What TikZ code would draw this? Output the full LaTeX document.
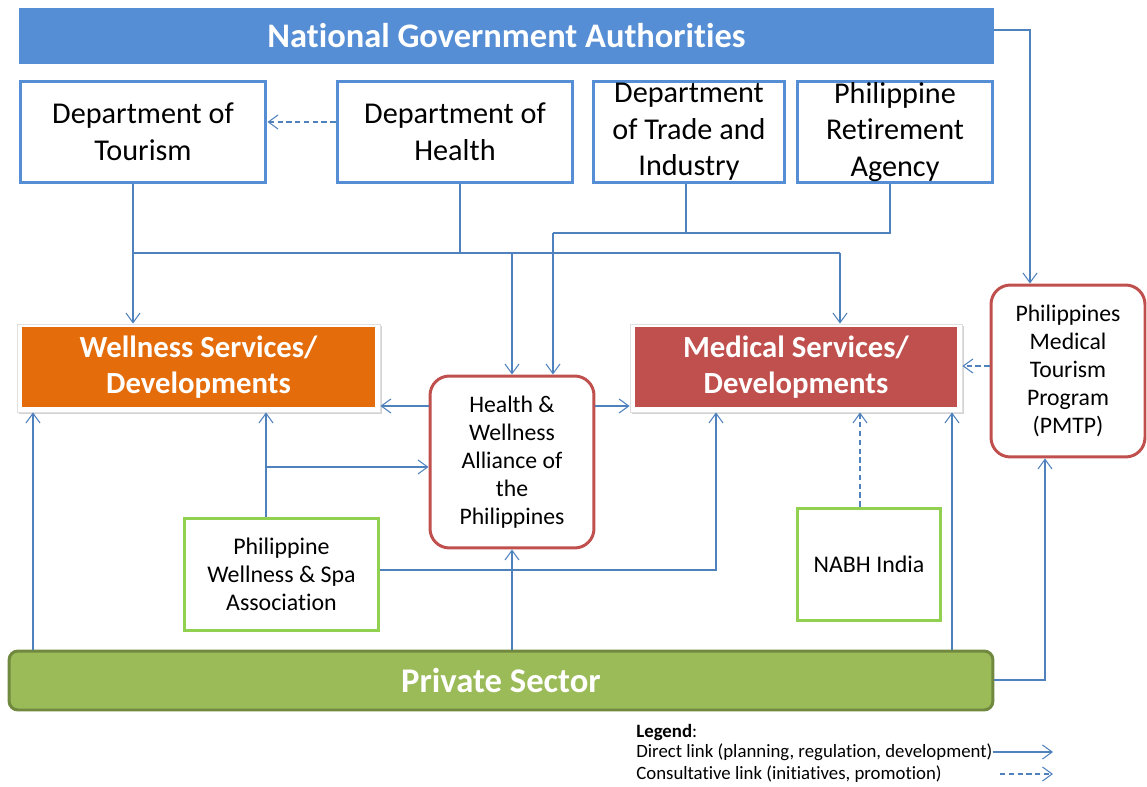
\documentclass[tikz,border=0pt]{standalone}
\usepackage{fontspec}
\setmainfont[Ligatures=NoCommon]{Carlito}
\usetikzlibrary{arrows.meta,shadows}
\definecolor{ngablue}{HTML}{558ED5}
\definecolor{linkblue}{HTML}{4F81BD}
\definecolor{orng}{HTML}{E46C0A}
\definecolor{redd}{HTML}{C0504D}
\definecolor{lgreen}{HTML}{92D050}
\definecolor{pgreen}{HTML}{9BBB59}
\definecolor{dgreen}{HTML}{71893F}
\tikzset{
  box/.style={draw=ngablue, line width=1.7pt, fill=white, align=center, inner sep=0pt, font=\fontsize{17.2}{20.8}\selectfont},
  gbox/.style={draw=lgreen, line width=1.7pt, fill=white, align=center, inner sep=0pt, font=\fontsize{13.6}{16.1}\selectfont},
  rbox/.style={draw=redd, line width=1.7pt, fill=white, rounded corners=11pt, align=center, inner sep=0pt, font=\fontsize{13.5}{16}\selectfont},
  shellbox/.style={draw=black!12, line width=0.5pt, fill=white, drop shadow={opacity=0.35, shadow xshift=1pt, shadow yshift=-1.2pt}, inner sep=0pt},
  svcbox/.style={inner sep=0pt, align=center, text=white, font=\fontsize{17.5}{20.4}\selectfont\bfseries},
  link/.style={draw=linkblue, line width=0.6pt, -{Straight Barb[length=5.5pt,width=8pt,line width=0.6pt]}},
  plain/.style={draw=linkblue, line width=0.6pt},
  clink/.style={link, dash pattern=on 3pt off 2pt},
  legtext/.style={anchor=west, inner sep=0pt, font=\fontsize{10.7}{12}\selectfont},
}
\begin{document}
\begin{tikzpicture}[x=0.02cm,y=-0.02cm]
\useasboundingbox (0,0) rectangle (1147,787);
% top
\node[fill=ngablue, inner sep=0pt, minimum width=19.5cm, minimum height=1.12cm, text=white, font=\fontsize{19.6}{22}\selectfont\bfseries] (nga) at (506.5,36) {National Government Authorities};
\node[box, minimum width=4.92cm, minimum height=2.04cm] (tour) at (143,132) {Department of\\Tourism};
\node[box, minimum width=4.72cm, minimum height=2.04cm] (health) at (455,132) {Department of\\Health};
\node[box, minimum width=3.84cm, minimum height=2.04cm] (dti) at (689,132) {Department\\of Trade and\\Industry};
\node[box, minimum width=3.92cm, minimum height=2.04cm] (pra) at (895,132) {Philippine\\Retirement\\Agency};
% service boxes
\node[shellbox, minimum width=7.26cm, minimum height=1.76cm] (wshell) at (198.5,368) {};
\node[svcbox, fill=orng, minimum width=7.06cm, minimum height=1.6cm] (well) at (198.5,367) {Wellness Services/\\Developments};
\node[shellbox, minimum width=6.64cm, minimum height=1.76cm] (mshell) at (796,368) {};
\node[svcbox, fill=redd, minimum width=6.44cm, minimum height=1.6cm] (med) at (796,367) {Medical Services/\\Developments};
\node[rbox, minimum width=3.28cm, minimum height=3.44cm] (hwap) at (512,462) {Health \&\\Wellness\\Alliance of\\the\\Philippines};
\node[rbox, minimum width=3.08cm, minimum height=3.44cm] (pmtp) at (1068,371) {Philippines\\Medical\\Tourism\\Program\\(PMTP)};
\node[gbox, minimum width=3.9cm, minimum height=2.26cm] (pwsa) at (281.5,574.5) {Philippine\\Wellness \& Spa\\Association};
\node[gbox, minimum width=2.88cm, minimum height=2.26cm] (nabh) at (869,564.5) {NABH India};
\node[fill=pgreen, draw=dgreen, line width=1.7pt, rounded corners=5pt, inner sep=0pt, minimum width=19.68cm, minimum height=1.18cm, text=white, font=\fontsize{19.7}{22}\selectfont\bfseries] (priv) at (501,680.5) {Private Sector};
% junction coordinates
\coordinate (busL) at (133,253);
\coordinate (busR) at (840,253);
\coordinate (busM) at (512,253);
\coordinate (busT) at (553,233);
\coordinate (busTR) at (890,233);
\coordinate (ngaC) at (1030,30);
\coordinate (privC) at (1045,680);
\coordinate (pwsaJ) at (266,467);
\coordinate (pwsaC) at (716,570);
% government links
\draw[link] (tour.south -| busL) -- (wshell.north -| busL);
\draw[plain] (health.south -| 460,0) -- (460,253);
\draw[plain] (busL) -- (busR);
\draw[link] (busR) -- (mshell.north -| busR);
\draw[link] (busM) -- (hwap.north -| busM);
\draw[plain] (dti.south -| 686,0) -- (686,233);
\draw[plain] (pra.south -| busTR) -- (busTR) -- (busT);
\draw[link] (busT) -- (hwap.north -| busT);
\draw[clink] (health.west |- 0,122) -- (tour.east |- 0,122);
\draw[link] (nga.east |- ngaC) -- (ngaC) -- (pmtp.north -| ngaC);
\draw[clink] (pmtp.west |- 0,366) -- (mshell.east |- 0,366);
% alliance links
\draw[link] (hwap.west |- 0,406) -- (wshell.east |- 0,406);
\draw[link] (hwap.east |- 0,406) -- (mshell.west |- 0,406);
% bottom links
\draw[link] (priv.north -| 33,0) -- (wshell.south -| 33,0);
\draw[link] (pwsa.north -| pwsaJ) -- (wshell.south -| pwsaJ);
\draw[link] (pwsaJ) -- (hwap.west |- pwsaJ);
\draw[link] (pwsa.east |- pwsaC) -- (pwsaC) -- (mshell.south -| pwsaC);
\draw[link] (priv.north -| 512,0) -- (hwap.south);
\draw[clink] (nabh.north -| 860,0) -- (mshell.south -| 860,0);
\draw[link] (priv.north -| 952,0) -- (mshell.south -| 952,0);
\draw[link] (priv.east |- privC) -- (privC) -- (pmtp.south -| privC);
% legend
\node[legtext] (leg) at (636,732) {\textbf{Legend}:};
\node[legtext] (legd) at (636,752) {Direct link (planning, regulation, development)};
\node[legtext] (legc) at (636,774) {Consultative link (initiatives, promotion)};
\coordinate (ld1) at (1053,752);
\coordinate (lc0) at (1000,774);
\coordinate (lc1) at (1053,774);
\draw[link] (legd.east) -- (ld1);
\draw[clink] (lc0) -- (lc1);
\end{tikzpicture}
\end{document}
